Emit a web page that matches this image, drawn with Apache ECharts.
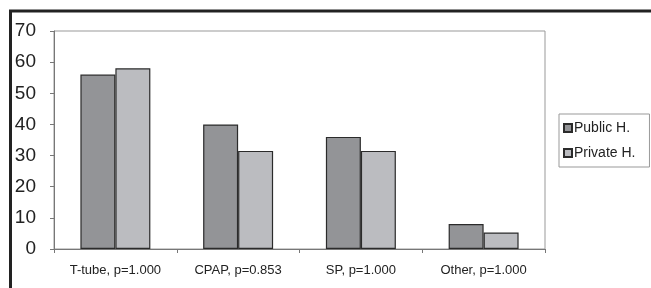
<!DOCTYPE html>
<html>
<head>
<meta charset="utf-8">
<script src="https://cdn.jsdelivr.net/npm/echarts@6/dist/echarts.min.js"></script>
<style>
html, body { margin: 0; padding: 0; background: #fff; }
#container { width: 651px; height: 288px; }
</style>
</head>
<body>
<div id="container"></div>
<script>
var categories = ['T-tube, p=1.000', 'CPAP, p=0.853', 'SP, p=1.000', 'Other, p=1.000'];
var publicValues = [56, 40, 36, 8];
var privateValues = [58, 31.5, 31.5, 5.3];
var seriesNames = ['Public H.', 'Private H.'];

var dom = document.getElementById('container');
var myChart = echarts.init(dom);
var font = 'Liberation Sans, Arial, sans-serif';

var option = {
    animation: false,
    backgroundColor: '#fff',
    // outer frame: thick top and left lines
    graphic: [
        { type: 'line', shape: { x1: 9, y1: 11, x2: 651, y2: 11 }, style: { stroke: '#222', lineWidth: 3 } },
        { type: 'line', shape: { x1: 10.5, y1: 10, x2: 10.5, y2: 288 }, style: { stroke: '#222', lineWidth: 3 } }
    ],
    grid: {
        left: 54, top: 31, right: 106, bottom: 39,
        show: true, borderColor: '#999', borderWidth: 1
    },
    legend: {
        orient: 'vertical',
        left: 559, top: 114,
        data: seriesNames,
        icon: 'rect',
        itemWidth: 8, itemHeight: 8,
        itemGap: 11,
        padding: [7, 14, 7, 4],
        borderColor: '#999', borderWidth: 1,
        textStyle: { fontFamily: font, fontSize: 14, color: '#222', padding: [0, 0, 0, -3] }
    },
    xAxis: {
        type: 'category',
        data: categories,
        axisLine: { lineStyle: { color: '#777', width: 1 } },
        axisTick: { show: true, length: 4, lineStyle: { color: '#777' } },
        axisLabel: { fontFamily: font, fontSize: 13, color: '#222', margin: 15 }
    },
    yAxis: {
        type: 'value',
        min: 0, max: 70, interval: 10,
        axisLine: { show: true, lineStyle: { color: '#777', width: 1 } },
        axisTick: { show: true, length: 4, lineStyle: { color: '#777' } },
        splitLine: { show: false },
        axisLabel: { fontFamily: font, fontSize: 19, color: '#222', margin: 18 }
    },
    series: [
        {
            name: seriesNames[0],
            type: 'bar',
            data: publicValues,
            barGap: '0%',
            barCategoryGap: '43%',
            itemStyle: { color: '#939497', borderColor: '#2b2b2b', borderWidth: 1.2 }
        },
        {
            name: seriesNames[1],
            type: 'bar',
            data: privateValues,
            itemStyle: { color: '#bbbcc0', borderColor: '#2b2b2b', borderWidth: 1.2 }
        }
    ]
};
if (option && typeof option === 'object') {
    myChart.setOption(option, true);
}
</script>
</body>
</html>
